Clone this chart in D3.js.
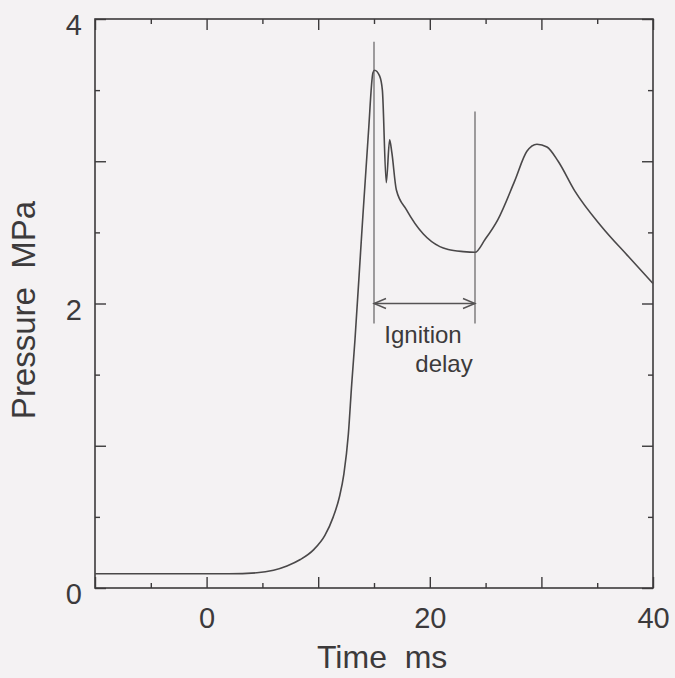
<!DOCTYPE html>
<html>
<head>
<meta charset="utf-8">
<script src="https://cdn.jsdelivr.net/npm/d3@7/dist/d3.min.js"></script>
<style>
  html, body { margin: 0; padding: 0; background: #f4f2f3; }
  svg { display: block; font-family: "Liberation Sans", Arial, Helvetica, sans-serif; }
</style>
</head>
<body>
<svg id="chart" width="675" height="678"></svg>
<script>
// Pressure trace (time in ms, pressure in MPa)
const timeMs = [-10, -5, 0, 2, 4.5, 6, 7.2, 8.4, 9.6, 10.6, 11.35, 11.9, 12.3, 12.7, 13.0, 13.3,
  13.9, 14.5, 14.9, 15.05, 15.5, 15.75, 16.1, 16.4, 16.6, 17.0, 17.9, 19.4, 20.9, 21.65,
  23.0, 24.05, 24.95, 26.1, 27.6, 28.7, 29.6, 30.5, 31.5, 33.0, 35.4, 37.8, 40];
const pressureMPa = [0.1, 0.1, 0.1, 0.1, 0.107, 0.125, 0.155, 0.2, 0.27, 0.37, 0.5, 0.64, 0.8, 1.08, 1.43, 1.75,
  2.49, 3.2, 3.62, 3.64, 3.6, 3.5, 2.85, 3.15, 3.06, 2.8, 2.66, 2.49, 2.4, 2.38,
  2.365, 2.36, 2.45, 2.59, 2.86, 3.07, 3.12, 3.1, 3.0, 2.79, 2.54, 2.33, 2.14];

// Axis ticks
const xMajorTicks = [0, 20, 40];
const xMidTicks = [-10, 10, 30];
const xMinorTicks = [-5, 5, 15, 25, 35];
const yMajorTicks = [0, 2, 4];
const yMidTicks = [1, 3];
const yMinorTicks = [0.5, 1.5, 2.5, 3.5];

// Ignition delay markers (ms) and their vertical extents (MPa)
const ignitionStart = 15;
const ignitionEnd = 24.05;
const startLineTop = 3.84;
const endLineTop = 3.35;
const markerBottom = 1.86;
const arrowLevel = 2.0;

(function draw() {
  const svg = d3.select("#chart");
  const pLeft = 95, pRight = 653, pTop = 19, pBottom = 588;
  const ink = "#3c3a3b";

  const x = d3.scaleLinear().domain([-10, 40]).range([pLeft, pRight]);
  const y = d3.scaleLinear().domain([0, 4]).range([pBottom, pTop]);

  // frame
  svg.append("rect")
    .attr("x", pLeft).attr("y", pTop)
    .attr("width", pRight - pLeft).attr("height", pBottom - pTop)
    .attr("fill", "none").attr("stroke", ink).attr("stroke-width", 1.6);

  const MAJ = 11, MIN = 5;
  function tickAxis(gen, scale, values, size, labelled, tr) {
    const g = svg.append("g").attr("transform", tr)
      .call(gen(scale).tickValues(values).tickSizeInner(-size).tickSizeOuter(0)
        .tickPadding(gen === d3.axisLeft ? 13 : 19)
        .tickFormat(labelled ? d3.format("d") : () => ""));
    g.select(".domain").remove();
    g.selectAll(".tick line").attr("stroke", ink).attr("stroke-width", 1.4);
    g.selectAll(".tick text").attr("fill", ink).attr("font-size", 29)
      .style("font-family", "'Liberation Sans', Arial, sans-serif");
    return g;
  }

  // bottom
  tickAxis(d3.axisBottom, x, xMajorTicks, MAJ, true, `translate(0,${pBottom})`);
  tickAxis(d3.axisBottom, x, xMidTicks, MAJ, false, `translate(0,${pBottom})`);
  tickAxis(d3.axisBottom, x, xMinorTicks, MIN, false, `translate(0,${pBottom})`);
  // top
  tickAxis(d3.axisTop, x, xMajorTicks.concat(xMidTicks), MAJ, false, `translate(0,${pTop})`);
  tickAxis(d3.axisTop, x, xMinorTicks, MIN, false, `translate(0,${pTop})`);
  // left
  const ly = tickAxis(d3.axisLeft, y, yMajorTicks, MAJ, true, `translate(${pLeft},0)`);
  ly.selectAll(".tick text").attr("dy", "0.54em");
  tickAxis(d3.axisLeft, y, yMidTicks, MAJ, false, `translate(${pLeft},0)`);
  tickAxis(d3.axisLeft, y, yMinorTicks, MIN, false, `translate(${pLeft},0)`);
  // right
  tickAxis(d3.axisRight, y, yMajorTicks.concat(yMidTicks), MAJ, false, `translate(${pRight},0)`);
  tickAxis(d3.axisRight, y, yMinorTicks, MIN, false, `translate(${pRight},0)`);

  // pressure curve
  const pts = timeMs.map((t, i) => [t, pressureMPa[i]]);
  svg.append("path")
    .datum(pts)
    .attr("fill", "none")
    .attr("stroke", "#4a4849")
    .attr("stroke-width", 1.6)
    .attr("stroke-linejoin", "round")
    .attr("d", d3.line().x(d => x(d[0])).y(d => y(d[1])).curve(d3.curveMonotoneX));

  // ignition delay markers
  const ann = svg.append("g").attr("stroke", "#555354").attr("stroke-width", 1.1).attr("fill", "none");
  ann.append("line").attr("x1", x(ignitionStart)).attr("x2", x(ignitionStart))
    .attr("y1", y(startLineTop)).attr("y2", y(markerBottom));
  ann.append("line").attr("x1", x(ignitionEnd)).attr("x2", x(ignitionEnd))
    .attr("y1", y(endLineTop)).attr("y2", y(markerBottom));
  const ay = y(arrowLevel), ax1 = x(ignitionStart), ax2 = x(ignitionEnd);
  ann.append("line").attr("x1", ax1).attr("x2", ax2).attr("y1", ay).attr("y2", ay).attr("stroke-width", 1.4);
  ann.append("path").attr("stroke-width", 1.4)
    .attr("d", `M${ax1 + 12},${ay - 5}L${ax1},${ay}L${ax1 + 12},${ay + 5}`);
  ann.append("path").attr("stroke-width", 1.4)
    .attr("d", `M${ax2 - 12},${ay - 5}L${ax2},${ay}L${ax2 - 12},${ay + 5}`);

  const note = svg.append("g").attr("fill", ink).attr("font-size", 24);
  note.append("text").attr("x", 423).attr("y", 343).attr("text-anchor", "middle").text("Ignition");
  note.append("text").attr("x", 444).attr("y", 372).attr("text-anchor", "middle").text("delay");

  // axis titles
  svg.append("text")
    .attr("x", 317).attr("y", 668)
    .attr("fill", ink).attr("font-size", 32)
    .style("white-space", "pre")
    .text("Time  ms");
  svg.append("text")
    .attr("transform", "translate(35,310) rotate(-90)")
    .attr("text-anchor", "middle")
    .attr("fill", ink).attr("font-size", 33)
    .style("white-space", "pre")
    .text("Pressure  MPa");
})();
</script>
</body>
</html>
